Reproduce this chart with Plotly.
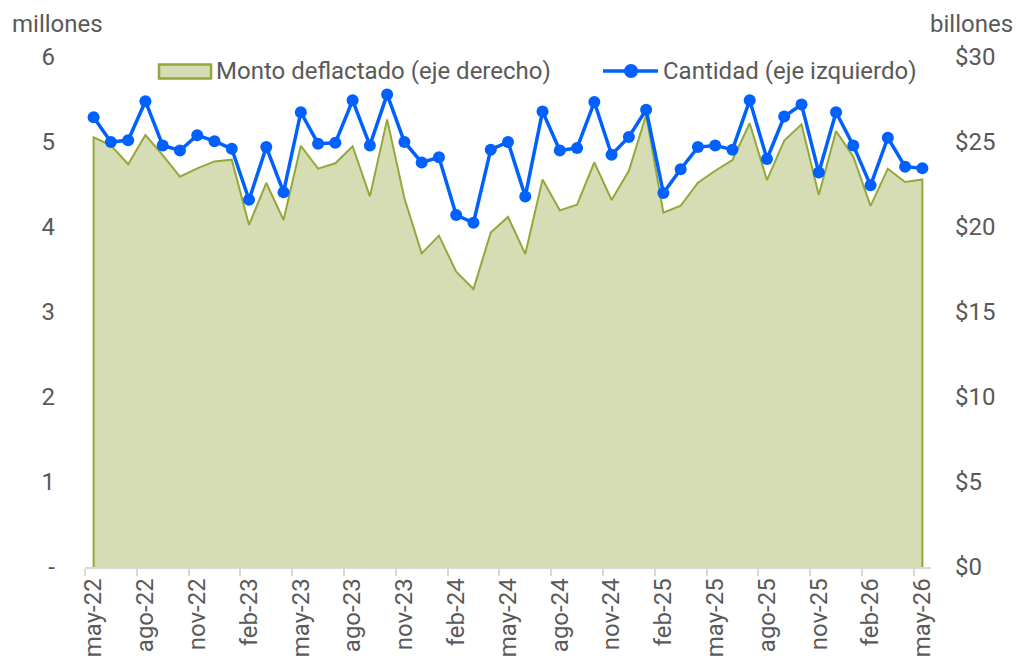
import plotly.graph_objects as go

# ---- data ----
month_names = ['ene', 'feb', 'mar', 'abr', 'may', 'jun', 'jul', 'ago', 'sep', 'oct', 'nov', 'dic']
start_year, start_month, n_months = 2022, 5, 49
categories = []
for k in range(n_months):
    m = (start_month - 1 + k) % 12
    y = start_year + (start_month - 1 + k) // 12
    categories.append(f"{month_names[m]}-{str(y)[2:]}")

# Cantidad (millones, eje izquierdo)
cantidad = [5.29, 5.00, 5.02, 5.48, 4.96, 4.90, 5.08, 5.01, 4.92, 4.32,
            4.94, 4.41, 5.35, 4.98, 4.99, 5.49, 4.96, 5.56, 5.00, 4.76,
            4.82, 4.14, 4.05, 4.91, 5.00, 4.36, 5.36, 4.90, 4.93, 5.47,
            4.85, 5.06, 5.38, 4.40, 4.68, 4.94, 4.96, 4.91, 5.49, 4.80,
            5.30, 5.44, 4.64, 5.35, 4.96, 4.49, 5.05, 4.71, 4.69]

# Monto deflactado (billones, eje derecho)
monto = [25.28, 24.80, 23.69, 25.41, 24.23, 22.96, 23.45, 23.86, 23.96, 20.12,
         22.59, 20.41, 24.78, 23.43, 23.75, 24.75, 21.80, 26.33, 21.69, 18.45,
         19.49, 17.37, 16.35, 19.67, 20.59, 18.41, 22.80, 20.98, 21.31, 23.80,
         21.59, 23.31, 26.59, 20.84, 21.25, 22.61, 23.31, 23.94, 26.10, 22.76,
         25.08, 26.04, 21.88, 25.65, 24.14, 21.24, 23.43, 22.65, 22.80]

left_ticks = [0, 1, 2, 3, 4, 5, 6]
left_labels = ['-', '1', '2', '3', '4', '5', '6']
right_ticks = [0, 5, 10, 15, 20, 25, 30]
right_labels = ['$0', '$5', '$10', '$15', '$20', '$25', '$30']

name_monto = 'Monto deflactado (eje derecho)'
name_cant = 'Cantidad (eje izquierdo)'

idx = list(range(len(categories)))
tick_idx = idx[::3]
tick_text = [categories[i] for i in tick_idx]

TEXT = '#595959'
FONT = 'Roboto'
FS = 24
BLUE = '#0061FF'
FILL = '#D6DDB5'
OLIVE = '#93A83A'

# plot-area geometry (pixels) used to place the hand-built legend
PW, PH = 846, 510
def px(xp):
    return (xp - 85) / PW
def py(yp):
    return (567 - yp) / PH

fig = go.Figure()

# closed polygon so that the vertical edges are outlined as well
area_x = [idx[0]] + idx + [idx[-1]]
area_y = [0] + monto + [0]
fig.add_trace(go.Scatter(
    x=area_x, y=area_y, mode='lines', fill='toself',
    fillcolor=FILL, line=dict(color=OLIVE, width=2),
    name=name_monto, yaxis='y', showlegend=False, hoverinfo='skip'))

fig.add_trace(go.Scatter(
    x=idx, y=cantidad, mode='lines+markers',
    line=dict(color=BLUE, width=3.5),
    marker=dict(color=BLUE, size=12),
    name=name_cant, yaxis='y2', showlegend=False))

shapes = [
    # legend: area swatch
    dict(type='rect', xref='paper', yref='paper', x0=px(159), x1=px(211), y0=py(78.5), y1=py(64.5),
         fillcolor=FILL, line=dict(color=OLIVE, width=2.5)),
    # legend: line swatch
    dict(type='line', xref='paper', yref='paper', x0=px(603), x1=px(658), y0=py(71), y1=py(71),
         line=dict(color=BLUE, width=3.5)),
    dict(type='circle', xref='paper', yref='paper', xsizemode='pixel', ysizemode='pixel',
         xanchor=px(631), yanchor=py(71), x0=-7, x1=7, y0=-7, y1=7,
         fillcolor=BLUE, line=dict(color=BLUE, width=0)),
]

annotations = [
    dict(text='millones', xref='paper', yref='paper', x=px(11), y=py(24),
         xanchor='left', yanchor='middle', showarrow=False, borderpad=0,
         font=dict(size=FS, color=TEXT)),
    dict(text='billones', xref='paper', yref='paper', x=px(1014), y=py(24),
         xanchor='right', yanchor='middle', showarrow=False, borderpad=0,
         font=dict(size=FS, color=TEXT)),
    dict(text=name_monto, xref='paper', yref='paper', x=px(214), y=py(71),
         xanchor='left', yanchor='middle', showarrow=False, font=dict(size=FS, color=TEXT)),
    dict(text=name_cant, xref='paper', yref='paper', x=px(661), y=py(71),
         xanchor='left', yanchor='middle', showarrow=False, font=dict(size=FS, color=TEXT)),
]

fig.update_layout(
    width=1023, height=662,
    margin=dict(l=77, r=100, t=49, b=103, autoexpand=False),
    paper_bgcolor='white', plot_bgcolor='white',
    font=dict(family=FONT, size=FS, color=TEXT),
    showlegend=False,
    xaxis=dict(range=[-0.5, len(categories) - 0.5], tickmode='array',
               tickvals=tick_idx, ticktext=tick_text, tickangle=-90,
               ticks='', showgrid=False, zeroline=False,
               showline=True, linecolor='#D9D9D9', linewidth=1.5,
               minor=dict(tickmode='linear', tick0=-0.5, dtick=3, ticks='outside',
                          ticklen=7, tickcolor='#D9D9D9', tickwidth=1.5, showgrid=False),
               tickfont=dict(size=FS, color=TEXT), automargin=False),
    yaxis=dict(range=[0, 30], side='right', tickmode='array', tickvals=right_ticks,
               ticktext=right_labels, showgrid=False, zeroline=False, showline=False,
               ticks='', ticklabelstandoff=23, tickfont=dict(size=FS, color=TEXT),
               automargin=False),
    yaxis2=dict(range=[0, 6], side='left', overlaying='y', tickmode='array',
                tickvals=left_ticks, ticktext=left_labels, showgrid=False,
                zeroline=False, showline=False, ticks='', ticklabelstandoff=29,
                tickfont=dict(size=FS, color=TEXT), automargin=False),
    shapes=shapes,
    annotations=annotations,
)

fig.write_html('out.html')
